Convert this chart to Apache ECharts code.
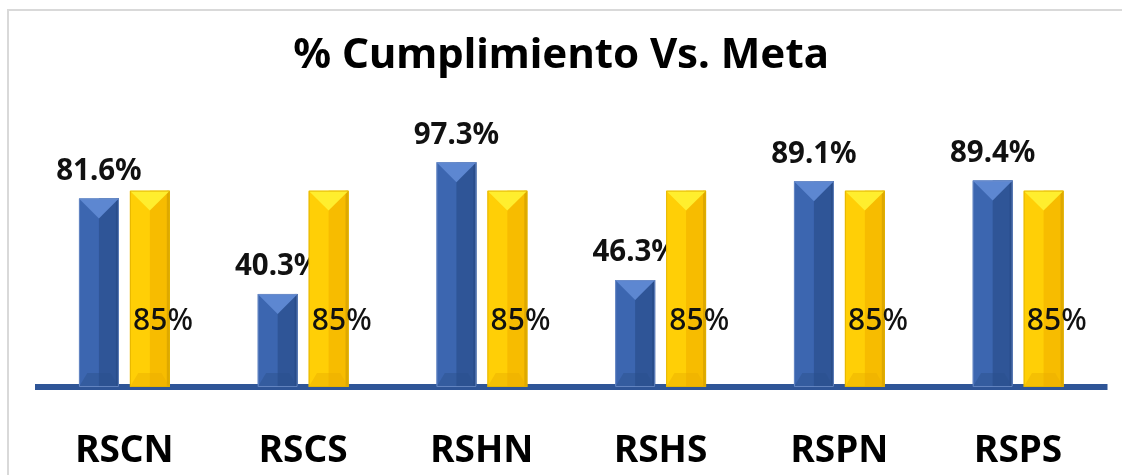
<!DOCTYPE html>
<html>
<head>
<meta charset="utf-8">
<script src="https://cdn.jsdelivr.net/npm/echarts@6/dist/echarts.min.js"></script>
<style>
  html, body { margin: 0; padding: 0; background: #ffffff; }
  #chart { width: 1122px; height: 475px; }
</style>
</head>
<body>
<div id="chart"></div>
<script>
// Regions and their results
const categories = ['RSCN', 'RSCS', 'RSHN', 'RSHS', 'RSPN', 'RSPS'];
const cumplimiento = [81.6, 40.3, 97.3, 46.3, 89.1, 89.4];
const meta = [85, 85, 85, 85, 85, 85];
const cumplimientoLabels = ['81.6%', '40.3%', '97.3%', '46.3%', '89.1%', '89.4%'];
const metaLabels = ['85%', '85%', '85%', '85%', '85%', '85%'];

const FONT = '"Noto Sans", "Open Sans", sans-serif';
const BAR_RATIO = 40 / 179;   // bar width as share of a category band
const GAP_RATIO = 11 / 179;   // gap between the two bars of a category

const palettes = {
  blue:   { top: '#5D87D1', left: '#3C66B0', right: '#2F5597', bottom: '#2B4F8C', edge: '#24467F', stroke: '#6F8FC8' },
  yellow: { top: '#FFEE2E', left: '#FFCF06', right: '#F7BC00', bottom: '#E9AE00', edge: '#C59300', stroke: '#E0B000' }
};

// Bevelled bar drawn from the category band and the value scale
function bevelBar(side, pal, labels, labelMode) {
  return function (params, api) {
    const idx = api.value(0);
    const v = api.value(1);
    const band = api.size([1, 0])[0];
    const w = band * BAR_RATIO;
    const gap = band * GAP_RATIO;
    const c = api.coord([idx, v]);
    const b0 = api.coord([idx, 0]);
    const cx = c[0] + side * (w + gap) / 2;
    const x0 = cx - w / 2, x1 = cx + w / 2;
    const y0 = c[1], y1 = b0[1];
    const h = y1 - y0;
    const bev = Math.min(w / 2, h / 2);
    const sb = Math.min(w * 0.35, h / 3);
    const children = [
      { type: 'rect', shape: { x: x0, y: y0, width: w, height: h }, style: { fill: pal.left } },
      { type: 'rect', shape: { x: cx, y: y0, width: w / 2, height: h }, style: { fill: pal.right } },
      { type: 'rect', shape: { x: x1 - 3, y: y0, width: 3, height: h }, style: { fill: pal.edge, opacity: 0.5 } },
      { type: 'polygon', shape: { points: [[x0, y1], [x1, y1], [x1 - sb * 0.6, y1 - sb], [x0 + sb * 0.6, y1 - sb]] }, style: { fill: pal.bottom, opacity: 0.45 } },
      { type: 'polygon', shape: { points: [[x0, y0], [x1, y0], [cx, y0 + bev]] }, style: { fill: pal.top } },
      { type: 'rect', shape: { x: x0 + 0.5, y: y0 + 0.5, width: w - 1, height: h - 1 }, style: { fill: null, stroke: pal.stroke, lineWidth: 1, opacity: 0.8 } }
    ];
    if (labelMode === 'top') {
      children.push({
        type: 'text',
        style: {
          text: labels[params.dataIndex], x: cx, y: y0 - 12,
          fill: '#111111', fontSize: 29.5, fontWeight: 'bold', fontFamily: FONT,
          align: 'center', verticalAlign: 'bottom'
        }
      });
    } else {
      children.push({
        type: 'text',
        style: {
          text: labels[params.dataIndex], x: x0 + w * 0.83, y: y0 + h * 0.667,
          fill: '#111111', fontSize: 30, fontWeight: 500, fontFamily: FONT,
          align: 'center', verticalAlign: 'middle'
        }
      });
    }
    return { type: 'group', children: children };
  };
}

const chart = echarts.init(document.getElementById('chart'));
chart.setOption({
  backgroundColor: '#ffffff',
  animation: false,
  title: {
    text: '% Cumplimiento Vs. Meta',
    left: 'center',
    top: 30,
    textStyle: { fontFamily: FONT, fontSize: 42, fontWeight: 'bold', color: '#000000' }
  },
  graphic: [{
    type: 'rect', silent: true, z: -10,
    shape: { x: 8, y: 10, width: 1200, height: 500 },
    style: { fill: null, stroke: '#D9D9D9', lineWidth: 2 }
  }],
  grid: { left: 35, right: 14.5, top: 156, bottom: 88 },
  xAxis: {
    type: 'category',
    data: categories,
    axisLine: { lineStyle: { color: '#2F5597', width: 6, cap: 'butt' } },
    axisTick: { show: false },
    axisLabel: {
      margin: 46, color: '#000000',
      fontFamily: FONT, fontSize: 37, fontWeight: 'bold'
    }
  },
  yAxis: {
    type: 'value', min: 0, max: 100, show: false,
    splitLine: { show: false }
  },
  series: [
    {
      name: 'Cumplimiento', type: 'custom', z: 2,
      renderItem: bevelBar(-1, palettes.blue, cumplimientoLabels, 'top'),
      encode: { x: 0, y: 1 },
      data: cumplimiento.map((v, i) => [i, v])
    },
    {
      name: 'Meta', type: 'custom', z: 2,
      renderItem: bevelBar(1, palettes.yellow, metaLabels, 'inside'),
      encode: { x: 0, y: 1 },
      data: meta.map((v, i) => [i, v])
    }
  ]
});
</script>
</body>
</html>
